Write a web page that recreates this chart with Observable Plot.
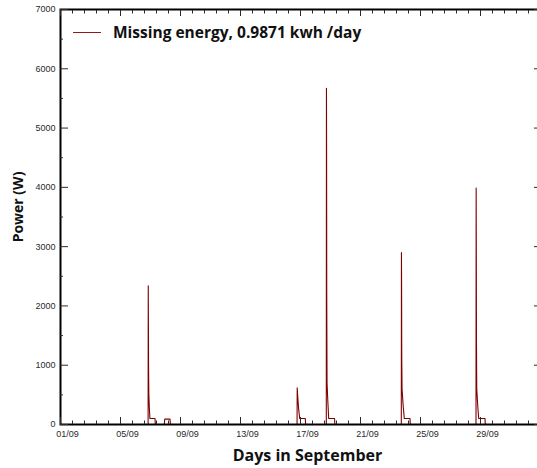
<!DOCTYPE html>
<html><head><meta charset="utf-8">
<script src="https://cdn.jsdelivr.net/npm/d3@7"></script>
<script src="https://cdn.jsdelivr.net/npm/@observablehq/plot@0.6"></script>
<style>
body{margin:0;background:#fff;}
#wrap{position:relative;width:537px;height:468px;overflow:hidden;}
#legend{position:absolute;left:73px;top:21px;display:flex;align-items:center;font-family:"Open Sans",sans-serif;font-weight:bold;font-size:15.5px;color:#111;white-space:nowrap;}
#legend .sw{display:inline-block;width:28px;height:0;border-top:1px solid #8b1a1a;margin-right:12px;}
</style></head><body>
<div id="wrap"><div id="legend"><span class="sw"></span><span>Missing energy, 0.9871 kwh /day</span></div></div>
<script>
// time in days since 01/09 00:00, power in W
const tDays = [0, 5.84, 5.85, 5.86, 5.87, 5.89, 5.92, 5.96, 6.30, 6.32, 6.92, 6.95, 7.30, 7.33,
  15.77, 15.78, 15.82, 15.88, 15.95, 16.32, 16.34,
  17.72, 17.73, 17.74, 17.75, 17.77, 17.82, 17.88, 18.27, 18.29,
  22.72, 22.73, 22.74, 22.75, 22.77, 22.85, 22.92, 23.30, 23.32,
  27.70, 27.71, 27.72, 27.73, 27.75, 27.82, 27.88, 28.30, 28.32, 32];
const powerW = [0, 0, 2340, 1750, 1000, 500, 300, 100, 100, 0, 0, 90, 90, 0,
  0, 620, 450, 250, 100, 100, 0,
  0, 5670, 4540, 2200, 700, 400, 100, 100, 0,
  0, 2900, 2300, 1130, 600, 300, 100, 100, 0,
  0, 3990, 3000, 1400, 600, 300, 100, 100, 0, 0];
const majorDays = [0, 4, 8, 12, 16, 20, 24, 28];
const dayLabels = ["01/09", "05/09", "09/09", "13/09", "17/09", "21/09", "25/09", "29/09"];
const yMajor = [0, 1000, 2000, 3000, 4000, 5000, 6000, 7000];
const yMinor = [500, 1500, 2500, 3500, 4500, 5500, 6500];
const xMinor = d3.range(0, 32.01, 0.8).filter(d => !majorDays.some(m => Math.abs(m - d) < 1e-6));
const legendLabel = "Missing energy, 0.9871 kwh /day";

const series = tDays.map((t, i) => ({t, p: powerW[i]}));
const titleFont = "'Open Sans', sans-serif";

const chart = Plot.plot({
  width: 537, height: 468,
  marginLeft: 60, marginRight: -3, marginTop: 9, marginBottom: 44,
  x: {domain: [0, 32]},
  y: {domain: [0, 7000]},
  style: {fontFamily: "'Liberation Sans', Arial, sans-serif", fontSize: "9px", color: "#2a2a2a", background: "transparent"},
  marks: [
    Plot.line(series, {x: "t", y: "p", stroke: "#7f0000", strokeWidth: 1.1}),
    Plot.frame({stroke: "#000", strokeWidth: 2}),
    // bottom
    Plot.axisX({ticks: majorDays, tickSize: 0, tickPadding: 6, dx: 7, label: null,
      tickFormat: d => dayLabels[majorDays.indexOf(d)]}),
    Plot.axisX({ticks: majorDays, tickSize: -7, fill: "none", label: null}),
    Plot.axisX({ticks: xMinor, tickSize: -3.5, fill: "none", label: null}),
    // top
    Plot.axisX({anchor: "top", ticks: majorDays, tickSize: -6, fill: "none", label: null}),
    Plot.axisX({anchor: "top", ticks: xMinor, tickSize: -3.5, fill: "none", label: null}),
    // left
    Plot.axisY({ticks: yMajor, tickSize: 0, tickPadding: 5, label: null, tickFormat: d => String(d)}),
    Plot.axisY({ticks: yMajor, tickSize: -8, fill: "none", label: null}),
    Plot.axisY({ticks: yMinor, tickSize: -3, fill: "none", label: null}),
    // right
    Plot.axisY({anchor: "right", ticks: yMajor, tickSize: -7, fill: "none", label: null}),
    Plot.axisY({anchor: "right", ticks: yMinor, tickSize: -4, fill: "none", label: null}),
    Plot.text(["Days in September"], {frameAnchor: "bottom", lineAnchor: "middle", dy: 31, dx: 7, fontSize: 16, fontWeight: "bold", fontFamily: titleFont, fill: "#111"}),
    Plot.text(["Power (W)"], {frameAnchor: "left", textAnchor: "middle", lineAnchor: "middle", rotate: -90, dx: -42, dy: -10, fontSize: 14, fontWeight: "bold", fontFamily: titleFont, fill: "#111"})
  ]
});
const wrap = document.getElementById("wrap");
wrap.insertBefore(chart, wrap.firstChild);
document.querySelector("#legend span:last-child").textContent = legendLabel;
</script>
</body></html>
